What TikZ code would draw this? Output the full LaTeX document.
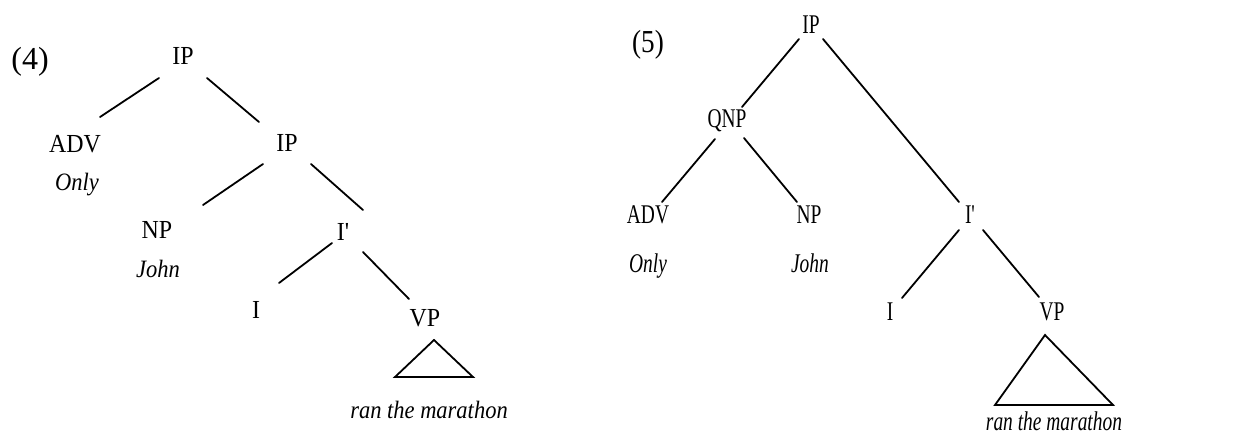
\documentclass[tikz,border=0pt]{standalone}
\usepackage{fontspec}
\setmainfont{Liberation Serif}
% horizontal squeeze for the two trees' labels
\newcommand\sqA[1]{\scalebox{0.92}[1]{#1}}
\newcommand\sqW[1]{\scalebox{0.9}[1]{#1}}
\newcommand\sqB[1]{\scalebox{0.72}[1]{#1}}
\tikzset{
  lab/.style={inner sep=0pt, anchor=base},
  exnum/.style={inner sep=0pt, anchor=center, font=\fontsize{16}{16}\selectfont},
  catA/.style={lab, font=\fontsize{13}{13}\selectfont},
  wordA/.style={lab, font=\fontsize{12.5}{12.5}\selectfont\itshape},
  catB/.style={lab, font=\fontsize{13.5}{13.5}\selectfont},
  wordB/.style={lab, font=\fontsize{13.5}{13.5}\selectfont\itshape},
  branch/.style={line width=0.9pt, line cap=round},
  roof/.style={line width=0.9pt, line join=miter}
}
\begin{document}
\begin{tikzpicture}[x=0.5pt, y=-0.5pt]
\useasboundingbox (0,0) rectangle (1254,436);

% ---------- tree (4) ----------
\node[exnum] (ex4) at (30,62) {(4)};
\node[catA] (ip4)   at (183,64)  {\sqA{IP}};
\node[catA] (adv4)  at (75,152)  {\sqA{ADV}};
\node[wordA] (only4) at (77,190) {\sqW{Only}};
\node[catA] (ipb4)  at (287,151) {\sqA{IP}};
\node[catA] (np4)   at (157,238) {\sqA{NP}};
\node[wordA] (john4) at (158,277) {\sqW{John}};
\node[catA] (ibar4) at (343,240) {\sqA{I\textquotesingle}};
\node[catA] (i4)    at (256,318) {\sqA{I}};
\node[catA] (vp4)   at (425,326) {\sqA{VP}};
\node[wordA] (ran4) at (429,418) {\sqW{ran the marathon}};

\draw[branch] ([shift={(-24,14)}]ip4.base) -- ([shift={(25,-35)}]adv4.base);
\draw[branch] ([shift={(24,14)}]ip4.base) -- ([shift={(-28,-29)}]ipb4.base);
\draw[branch] ([shift={(-24,13)}]ipb4.base) -- ([shift={(46,-33)}]np4.base);
\draw[branch] ([shift={(24,13)}]ipb4.base) -- ([shift={(20,-30)}]ibar4.base);
\draw[branch] ([shift={(-11,3)}]ibar4.base) -- ([shift={(23,-35)}]i4.base);
\draw[branch] ([shift={(20,12)}]ibar4.base) -- ([shift={(-16,-27)}]vp4.base);
\draw[roof] ([shift={(9,14)}]vp4.base) -- ([shift={(-30,51)}]vp4.base)
  -- ([shift={(48,51)}]vp4.base) -- cycle;

% ---------- tree (5) ----------
\node[exnum] (ex5) at (648,45) {\scalebox{0.85}[1]{(5)}};
\node[catB] (ip5)   at (811,33)   {\sqB{IP}};
\node[catB] (qnp5)  at (727,127)  {\sqB{QNP}};
\node[catB] (adv5)  at (648,223)  {\sqB{ADV}};
\node[catB] (np5)   at (809,223)  {\sqB{NP}};
\node[wordB] (only5) at (648,272) {\sqB{Only}};
\node[wordB] (john5) at (810,272) {\sqB{John}};
\node[catB] (ibar5) at (970,223)  {\sqB{I\textquotesingle}};
\node[catB] (i5)    at (890,320)  {\sqB{I}};
\node[catB] (vp5)   at (1052,320) {\sqB{VP}};
\node[wordB] (ran5) at (1054,430) {\sqB{ran the marathon}};

\draw[branch] ([shift={(-12,6)}]ip5.base) -- ([shift={(15,-20)}]qnp5.base);
\draw[branch] ([shift={(12,6)}]ip5.base) -- ([shift={(-11,-21)}]ibar5.base);
\draw[branch] ([shift={(-12,12)}]qnp5.base) -- ([shift={(14,-21)}]adv5.base);
\draw[branch] ([shift={(17,11)}]qnp5.base) -- ([shift={(-12,-21)}]np5.base);
\draw[branch] ([shift={(-11,7)}]ibar5.base) -- ([shift={(12,-22)}]i5.base);
\draw[branch] ([shift={(13,7)}]ibar5.base) -- ([shift={(-13,-23)}]vp5.base);
\draw[roof] ([shift={(-7,15)}]vp5.base) -- ([shift={(-57,85)}]vp5.base)
  -- ([shift={(61,85)}]vp5.base) -- cycle;
\end{tikzpicture}
\end{document}
